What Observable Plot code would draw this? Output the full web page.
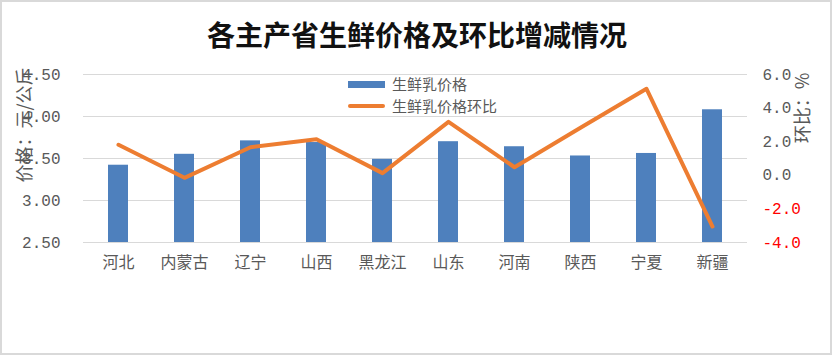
<!DOCTYPE html>
<html><head><meta charset="utf-8">
<script src="https://cdn.jsdelivr.net/npm/d3@7"></script>
<script src="https://cdn.jsdelivr.net/npm/@observablehq/plot@0.6"></script>
<style>
body{margin:0;background:#fff;}
#wrap{position:relative;width:832px;height:355px;overflow:hidden;font-family:"Noto Sans CJK SC",sans-serif;background:#fff;}
#chart{position:absolute;left:0;top:0;}
#frame{position:absolute;left:0;top:0;width:832px;height:355px;box-sizing:border-box;border:2px solid #d9d9d9;pointer-events:none;}
.title{position:absolute;left:0;width:834px;top:20px;text-align:center;font-size:28px;font-weight:bold;color:#111;line-height:1;}
.leg{position:absolute;left:348px;height:16px;font-size:15px;color:#595959;line-height:16px;white-space:nowrap;display:flex;align-items:center;}
.leg .sw{display:inline-block;width:37px;margin-right:7px;flex:none;}
.ytitle{position:absolute;font-size:18px;color:#595959;white-space:nowrap;transform:translate(-50%,-50%) rotate(-90deg);line-height:1;}
</style></head><body>
<div id="wrap">
  <div id="chart"></div>
  <div class="title">各主产省生鲜价格及环比增减情况</div>
  <div class="leg" style="top:76px"><span class="sw" style="height:7px;background:#4e80bd"></span>生鲜乳价格</div>
  <div class="leg" style="top:98px"><span class="sw" style="height:4px;background:#ed7d31;border-radius:2px"></span>生鲜乳价格环比</div>
  <div class="ytitle" style="left:23px;top:125px">价格：元/公斤</div>
  <div class="ytitle" style="left:801px;top:108px">环比：%</div>
  <div id="frame"></div>
</div>
<script>
const provinces = ["河北","内蒙古","辽宁","山西","黑龙江","山东","河南","陕西","宁夏","新疆"];
const prices = [3.42, 3.55, 3.71, 3.69, 3.49, 3.70, 3.64, 3.53, 3.56, 4.08];
const momChange = [1.82, -0.15, 1.67, 2.15, 0.13, 3.18, 0.48, 2.83, 5.15, -3.05];
const priceTicks = [2.5, 3.0, 3.5, 4.0, 4.5];
const momTicks = [-4, -2, 0, 2, 4, 6];

const priceDomain = [2.5, 4.5];
const momDomain = [-4, 6];
const toPrice = v => priceDomain[0] + (v - momDomain[0]) / (momDomain[1] - momDomain[0]) * (priceDomain[1] - priceDomain[0]);

const rows = provinces.map((p, i) => ({province: p, price: prices[i], mom: momChange[i]}));
const momPos = momTicks.map(v => ({v, pos: toPrice(v)}));
const labelOf = new Map(momPos.map(d => [d.pos, d.v.toFixed(1)]));

const monoFont = "'Liberation Mono', 'DejaVu Sans Mono', monospace";

const chart = Plot.plot({
  width: 832, height: 355,
  marginTop: 74, marginBottom: 113, marginLeft: 83, marginRight: 85,
  x: {domain: provinces, paddingInner: 0.69, paddingOuter: 0.345, label: null},
  y: {domain: priceDomain, label: null},
  style: {fontFamily: "'Noto Sans CJK SC', sans-serif", background: "transparent", overflow: "visible"},
  marks: [
    Plot.gridY(priceTicks, {stroke: "#d9d9d9", strokeOpacity: 1, strokeWidth: 1}),
    Plot.barY(rows, {x: "province", y1: priceDomain[0], y2: "price", fill: "#4e80bd"}),
    Plot.line(rows, {x: "province", y: d => toPrice(d.mom), stroke: "#ed7d31", strokeWidth: 4, strokeLinejoin: "round", strokeLinecap: "round"}),
    Plot.axisY(priceTicks, {anchor: "left", tickSize: 0, tickPadding: 23, label: null, tickFormat: d => d.toFixed(2), fontSize: 16, fontFamily: monoFont, fill: "#595959"}),
    Plot.axisY(momPos.filter(d => d.v >= 0).map(d => d.pos), {anchor: "right", tickSize: 0, tickPadding: 15, label: null, tickFormat: d => labelOf.get(d), fontSize: 16, fontFamily: monoFont, fill: "#595959"}),
    Plot.axisY(momPos.filter(d => d.v < 0).map(d => d.pos), {anchor: "right", tickSize: 0, tickPadding: 15, label: null, tickFormat: d => labelOf.get(d), fontSize: 16, fontFamily: monoFont, fill: "#ff0000"}),
    Plot.axisX({tickSize: 0, tickPadding: 14, label: null, fontSize: 16, fill: "#595959"})
  ]
});
document.getElementById("chart").appendChild(chart);
</script>
</body></html>
